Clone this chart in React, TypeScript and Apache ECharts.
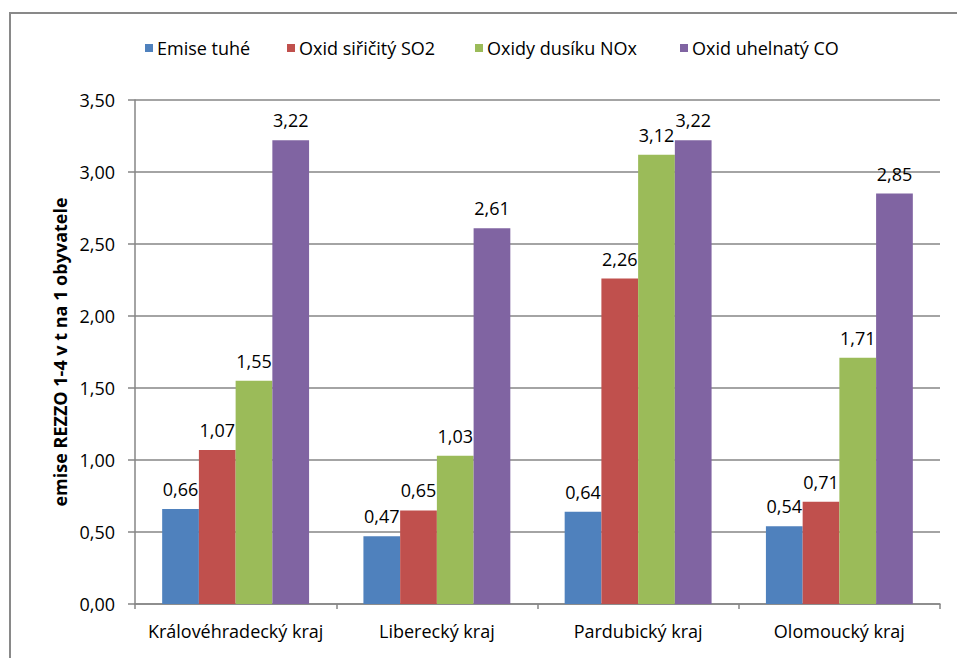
import React, { useEffect, useRef } from "react";
import * as echarts from "echarts";

const categories = ["Královéhradecký kraj", "Liberecký kraj", "Pardubický kraj", "Olomoucký kraj"];
const seriesNames = ["Emise tuhé", "Oxid siřičitý SO2", "Oxidy dusíku NOx", "Oxid uhelnatý CO"];
const emiseTuhe = [0.66, 0.47, 0.64, 0.54];
const oxidSiricity = [1.07, 0.65, 2.26, 0.71];
const oxidyDusiku = [1.55, 1.03, 3.12, 1.71];
const oxidUhelnaty = [3.22, 2.61, 3.22, 2.85];
const colors = ["#4F81BD", "#C0504D", "#9BBB59", "#8064A2"];
const legendLefts = [145, 287, 475, 680];

const FONT = "'Open Sans', sans-serif";
const fmt = (v: number) => v.toFixed(2).replace(".", ",");

export default function App() {
  const ref = useRef<HTMLDivElement>(null);
  useEffect(() => {
    if (!ref.current) return;
    const chart = echarts.init(ref.current, null, { renderer: "svg" });
    const data = [emiseTuhe, oxidSiricity, oxidyDusiku, oxidUhelnaty];
    chart.setOption({
      animation: false,
      textStyle: { fontFamily: FONT },
      graphic: [
        {
          type: "rect",
          shape: { x: 10, y: 13, width: 980, height: 700 },
          style: { fill: "none", stroke: "#898989", lineWidth: 2 },
          silent: true,
        },
      ],
      legend: seriesNames.map((name, i) => ({
        top: 39,
        left: legendLefts[i],
        padding: 0,
        itemWidth: 8,
        itemHeight: 8,
        icon: "rect",
        textStyle: { fontFamily: FONT, fontSize: 18, color: "#000", padding: [0, 0, 0, -1] },
        data: [name],
      })),
      grid: { left: 135, right: 17, top: 100, bottom: 54, containLabel: false },
      xAxis: {
        type: "category",
        data: categories,
        axisLine: { lineStyle: { color: "#868686", width: 1.5 } },
        axisTick: { show: true, length: 5, lineStyle: { color: "#868686", width: 1.5 } },
        axisLabel: { color: "#000", fontSize: 18, fontFamily: FONT, margin: 18, interval: 0 },
      },
      yAxis: {
        type: "value",
        min: 0,
        max: 3.5,
        interval: 0.5,
        name: "emise REZZO 1-4 v t na 1 obyvatele",
        nameLocation: "middle",
        nameGap: 66,
        nameTextStyle: { fontFamily: FONT, fontSize: 18, fontWeight: "bold", color: "#000" },
        axisLine: { show: true, lineStyle: { color: "#868686", width: 1.5 } },
        axisTick: { show: true, length: 7, lineStyle: { color: "#868686", width: 1.5 } },
        splitLine: { show: true, lineStyle: { color: "#868686", width: 1.5 } },
        axisLabel: { color: "#000", fontSize: 18, fontFamily: FONT, margin: 20, formatter: fmt },
      },
      series: seriesNames.map((name, i) => ({
        name,
        type: "bar",
        data: data[i],
        barGap: "0%",
        barCategoryGap: "27%",
        itemStyle: { color: colors[i] },
        label: {
          show: true,
          position: "top",
          distance: 11,
          fontSize: 18,
          fontFamily: FONT,
          color: "#000",
          formatter: (p: any) => fmt(p.value),
        },
      })),
    });
    return () => chart.dispose();
  }, []);
  return <div ref={ref} style={{ width: 957, height: 658, position: "absolute", left: 0, top: 0 }} />;
}
